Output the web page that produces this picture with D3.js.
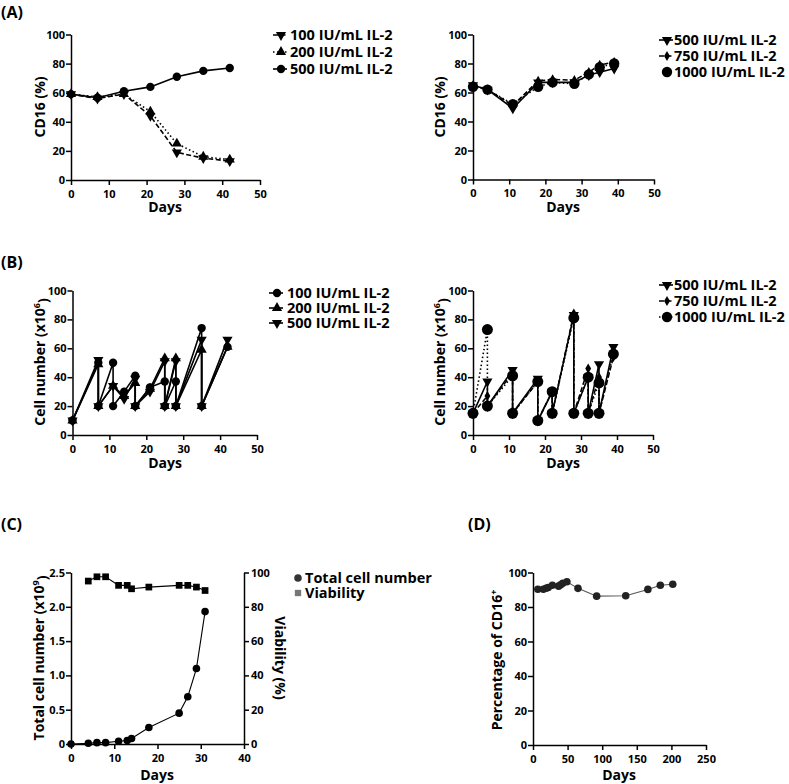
<!DOCTYPE html>
<html><head><meta charset="utf-8">
<script src="https://cdn.jsdelivr.net/npm/d3@7"></script>
<style>
html,body{margin:0;padding:0;background:#fff;}
svg{display:block;font-family:"Open Sans",sans-serif;}
.axis path,.axis line{stroke:#000;stroke-width:1.5;}
.axis text{font-size:11px;font-weight:700;fill:#000;font-family:"Open Sans",sans-serif;}
</style></head>
<body>
<svg id="c" width="789" height="784"></svg>
<script>
// ---------- DATA ----------
// Panel A (left): CD16 % vs days
const aLeftDays = [0,7,14,21,28,35,42];
const aLeft100 = [59,56,59,44,19,15,13];
const aLeft200 = [59,57,59,47,25,16,14];
const aLeft500 = [59,56.5,61,64,71,75,77];
const aLeftLabels = ["100 IU/mL IL-2","200 IU/mL IL-2","500 IU/mL IL-2"];
// Panel A (right)
const aRightDays = [0,4,11,18,22,28,32,35,39];
const aRight500 = [65,62,49,67,67,67,72,74,76.5];
const aRight750 = [65,62,51,68,69,68.5,74,79,81];
const aRight1000 = [64,62,52,64,67,66,72.5,77.5,80];
const aRightLabels = ["500 IU/mL IL-2","750 IU/mL IL-2","1000 IU/mL IL-2"];
// Panel B (left): cell number (x10^6)
const bLeftDays100 = [0,7,7,11,11,14,17,17,21,25,25,28,28,35,35,42];
const bLeft100 =     [10,50,20,50,20,30,41,20,33,37,20,37,20,74,20,61];
const bLeftDays200 = [0,7,7,11,14,17,17,21,25,25,28,28,35,35,42];
const bLeft200 =     [10,49,20,34,27,36,20,32,53,20,53,20,59,20,61];
const bLeftDays500 = [0,7,7,11,14,17,17,21,25,25,28,28,35,35,42];
const bLeft500 =     [10,52,20,34,25,39,20,30,51,20,51,20,66,20,66];
const bLeftLabels = ["100 IU/mL IL-2","200 IU/mL IL-2","500 IU/mL IL-2"];
// Panel B (right)
const bRightDays = [0,4,4,11,11,18,18,22,22,28,28,32,32,35,35,39];
const bRight500 =  [15,37,20,45,15,39,10,30,15,83,15,40,15,49,15,61];
const bRight750 =  [15,27,20,43,15,37,10,30,15,84,15,46,15,40,15,54];
const bRight1000 = [15,73,20,41,15,37,10,30,15,81,15,40,15,36,15,56];
const bRightLabels = ["500 IU/mL IL-2","750 IU/mL IL-2","1000 IU/mL IL-2"];
// Panel C
const cTotalDays = [0,4,6,8,11,13,14,18,25,27,29,31];
const cTotal = [0,0.01,0.02,0.02,0.04,0.05,0.08,0.24,0.45,0.69,1.1,1.93];
const cViabDays = [4,6,8,11,13,14,18,25,27,29,31];
const cViab = [95,97.5,97.5,92.5,92.5,90.5,91.5,92.5,92.5,91.5,89.5];
const cLabels = ["Total cell number","Viability"];
// Panel D
const dDays = [7,15,19,22,28,37,40,43,49,65,92,134,166,184,202];
const dCD16 = [90.3,90.3,90.9,91.3,92.6,92.1,92.9,93.7,94.6,90.8,86.3,86.5,90.2,92.6,93.2];
// Ticks
const ticksDays50 = [0,10,20,30,40,50];
const ticksPct = [0,20,40,60,80,100];
const ticksDays40 = [0,10,20,30,40];
const ticksTotal = [0,0.5,1.0,1.5,2.0,2.5];
const ticksDays250 = [0,50,100,150,200,250];

// ---------- DRAW ----------
const svg = d3.select("#c");
const SANS = '"Open Sans",sans-serif';

const DASH = {solid:null, dashed:"5,2.5", dotted:"1.5,2.5"};
function symPath(type,size){return d3.symbol().type(type).size(size)();}
const MK = {
  tdown:{type:d3.symbolTriangle,size:45,rot:180},
  tup:{type:d3.symbolTriangle,size:45,rot:0},
  circle:{type:d3.symbolCircle,size:55,rot:0},
  bigcircle:{type:d3.symbolCircle,size:85,rot:0},
  diamond:{type:d3.symbolDiamond,size:30,rot:0},
  square:{type:d3.symbolSquare,size:45,rot:0}
};

function axes(g,x,y,xt,yt,opt){
  opt=opt||{};
  const col=opt.color||"#000";
  const ax=g.append("g").attr("class","axis").attr("transform",`translate(0,${y.range()[0]})`)
    .call(d3.axisBottom(x).tickValues(xt).tickSize(5).tickSizeOuter(0).tickPadding(5).tickFormat(opt.xfmt||d3.format("d")));
  const ay=g.append("g").attr("class","axis").attr("transform",`translate(${x.range()[0]},0)`)
    .call(d3.axisLeft(y).tickValues(yt).tickSize(5).tickSizeOuter(0).tickPadding(1).tickFormat(opt.yfmt||d3.format("d")));
  [ax,ay].forEach(a=>{a.selectAll("path,line").attr("stroke",col);});
  return {ax,ay};
}

function series(g,x,y,days,vals,dash,mk,opt){
  opt=opt||{};
  const pts=days.map((d,i)=>[d,vals[i]]);
  g.append("path").attr("d",d3.line().x(d=>x(d[0])).y(d=>y(d[1]))(pts))
    .attr("fill","none").attr("stroke",opt.lineColor||"#000").attr("stroke-width",opt.lw||1.6)
    .attr("stroke-dasharray",DASH[dash]);
  const m=MK[mk];
  g.selectAll(null).data(pts).enter().append("path")
    .attr("d",symPath(m.type,opt.size||m.size))
    .attr("transform",d=>`translate(${x(d[0])},${y(d[1])}) rotate(${m.rot})`)
    .attr("fill",opt.fill||"#000");
}

function legend(g,x0,ys,labels,dashes,mks,opt){
  opt=opt||{};
  labels.forEach((lab,i)=>{
    const yy=ys[i];
    if(dashes[i]!==undefined && dashes[i]!=="none"){
      g.append("line").attr("x1",x0-8).attr("x2",x0+6).attr("y1",yy).attr("y2",yy)
        .attr("stroke","#000").attr("stroke-width",1.6).attr("stroke-dasharray",DASH[dashes[i]]);
    }
    const m=MK[mks[i]];
    g.append("path").attr("d",symPath(m.type,(opt.sizes&&opt.sizes[i])||m.size))
      .attr("transform",`translate(${x0},${yy}) rotate(${m.rot})`)
      .attr("fill",(opt.fills&&opt.fills[i])||"#000");
    g.append("text").attr("x",x0+(opt.dx||9)).attr("y",yy).attr("dy","0.35em")
      .attr("font-family",SANS).attr("font-size",opt.fs||14.5).attr("font-weight",700).text(lab);
  });
}

function ytitle(g,cx,cy,txt,sup,rot){
  const t=g.append("text").attr("transform",`translate(${cx},${cy}) rotate(${rot||-90})`)
    .attr("text-anchor","middle").attr("dy","0.35em").attr("font-family",SANS)
    .attr("font-size",14).attr("font-weight",700);
  t.append("tspan").text(txt);
  if(sup){t.append("tspan").attr("font-size",9).attr("dy","-0.6em").text(sup);
          if(sup.length && txt.endsWith("x10")) t.append("tspan").attr("dy","0.6em").text(")");}
  return t;
}
function xtitle(g,cx,y,txt){
  g.append("text").attr("x",cx).attr("y",y).attr("text-anchor","middle").attr("font-family",SANS)
    .attr("font-size",14).attr("font-weight",700).text(txt);
}
function panelLabel(x,y,t){
  svg.append("text").attr("x",x).attr("y",y).attr("font-family",SANS).attr("font-size",16)
    .attr("font-weight",700).text(t);
}

// Panel labels
panelLabel(1,18,"(A)");
panelLabel(1,268,"(B)");
panelLabel(1,530,"(C)");
panelLabel(468,530,"(D)");

// ---- A left ----
{
  const g=svg.append("g");
  const x=d3.scaleLinear().domain([0,50]).range([71,260]);
  const y=d3.scaleLinear().domain([0,100]).range([180,34.5]);
  axes(g,x,y,ticksDays50,ticksPct);
  series(g,x,y,aLeftDays,aLeft500,"solid","circle");
  series(g,x,y,aLeftDays,aLeft200,"dotted","tup");
  series(g,x,y,aLeftDays,aLeft100,"dashed","tdown");
  ytitle(g,40,107,"CD16 (%)");
  xtitle(g,165,212,"Days");
  legend(g,281,[35,52,69],aLeftLabels,["dashed","dotted","solid"],["tdown","tup","circle"]);
}
// ---- A right ----
{
  const g=svg.append("g");
  const x=d3.scaleLinear().domain([0,50]).range([473,654]);
  const y=d3.scaleLinear().domain([0,100]).range([179.5,34.5]);
  axes(g,x,y,ticksDays50,ticksPct);
  series(g,x,y,aRightDays,aRight500,"solid","tdown");
  series(g,x,y,aRightDays,aRight750,"dashed","diamond");
  series(g,x,y,aRightDays,aRight1000,"dotted","bigcircle");
  ytitle(g,440,107,"CD16 (%)");
  xtitle(g,563,212,"Days");
  legend(g,667,[40,56,72],aRightLabels,["solid","dashed","none"],["tdown","diamond","bigcircle"],{dx:7});
}
// ---- B left ----
{
  const g=svg.append("g");
  const x=d3.scaleLinear().domain([0,50]).range([72.5,257]);
  const y=d3.scaleLinear().domain([0,100]).range([435,290.5]);
  axes(g,x,y,ticksDays50,ticksPct);
  series(g,x,y,bLeftDays100,bLeft100,"solid","circle");
  series(g,x,y,bLeftDays200,bLeft200,"solid","tup");
  series(g,x,y,bLeftDays500,bLeft500,"solid","tdown");
  ytitle(g,40,362,"Cell number (x10","6");
  xtitle(g,165,468,"Days");
  legend(g,277,[293,308,323],bLeftLabels,["solid","solid","solid"],["circle","tup","tdown"],{dx:10});
}
// ---- B right ----
{
  const g=svg.append("g");
  const x=d3.scaleLinear().domain([0,50]).range([473,653]);
  const y=d3.scaleLinear().domain([0,100]).range([435,290.5]);
  axes(g,x,y,ticksDays50,ticksPct);
  series(g,x,y,bRightDays,bRight1000,"dotted","bigcircle",{size:95});
  series(g,x,y,bRightDays,bRight750,"dashed","diamond");
  series(g,x,y,bRightDays,bRight500,"solid","tdown");
  ytitle(g,440,362,"Cell number (x10","6");
  xtitle(g,563,468,"Days");
  legend(g,667,[285,301,317],bRightLabels,["solid","dashed","dotted"],["tdown","diamond","bigcircle"],{dx:7});
}
// ---- C ----
{
  const g=svg.append("g");
  const x=d3.scaleLinear().domain([0,40]).range([71,244]);
  const y=d3.scaleLinear().domain([0,2.5]).range([744,572.5]);
  const y2=d3.scaleLinear().domain([0,100]).range([744,572.5]);
  axes(g,x,y,ticksDays40,ticksTotal,{yfmt:d=>d===0?"0":d3.format(".1f")(d)});
  const ar=g.append("g").attr("class","axis").attr("transform","translate(244,0)")
    .call(d3.axisRight(y2).tickValues(ticksPct).tickSize(5).tickSizeOuter(0).tickPadding(2));
  series(g,x,y,cTotalDays,cTotal,"solid","circle",{lw:1.1,size:45});
  series(g,x,y2,cViabDays,cViab,"solid","square",{lw:1.1});
  ytitle(g,39,658,"Total cell number (x10","9");
  ytitle(g,280,658,"Viability (%)",null,90);
  xtitle(g,157,780,"Days");
  legend(g,298,[578,593],cLabels,["none","none"],["circle","square"],{dx:7,fills:["#333","#777"],sizes:[45,40]});
}
// ---- D ----
{
  const g=svg.append("g");
  const x=d3.scaleLinear().domain([0,250]).range([533,706]);
  const y=d3.scaleLinear().domain([0,100]).range([745,572.5]);
  axes(g,x,y,ticksDays250,ticksPct,{color:"#333"});
  series(g,x,y,dDays,dCD16,"solid","circle",{lw:1.1,lineColor:"#555",size:45,fill:"#222"});
  ytitle(g,497,660,"Percentage of CD16","+");
  xtitle(g,619,780,"Days");
}
</script>
</body></html>
